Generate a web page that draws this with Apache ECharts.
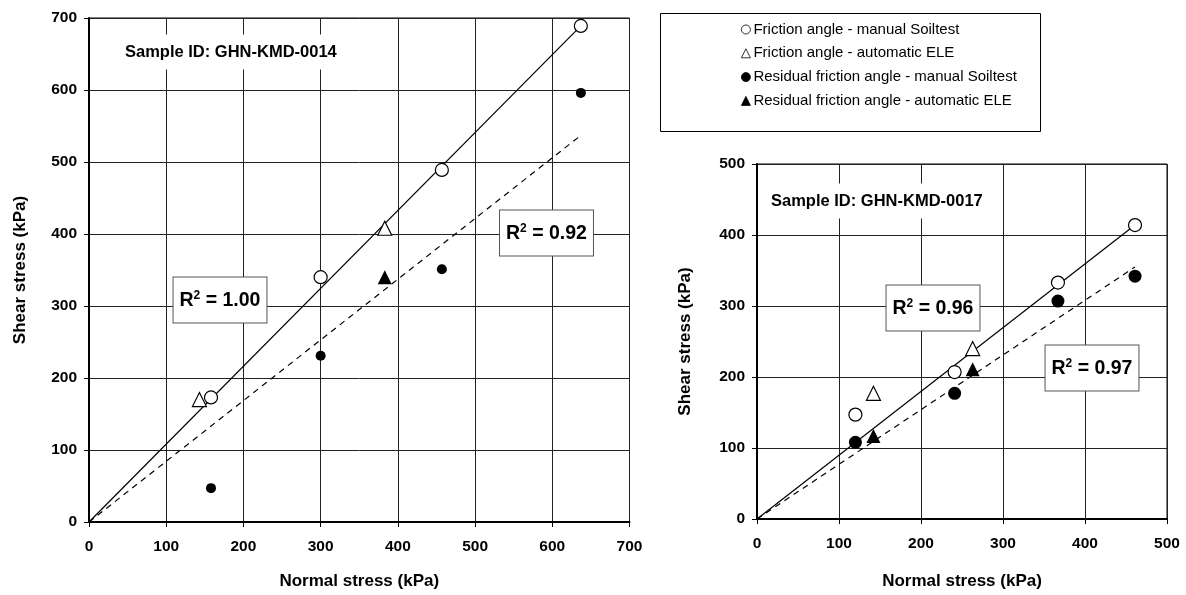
<!DOCTYPE html>
<html>
<head>
<meta charset="utf-8">
<script src="https://cdn.jsdelivr.net/npm/echarts@6/dist/echarts.min.js"></script>
<style>
  html, body { margin: 0; padding: 0; background: #fff; }
  #chart { width: 1186px; height: 595px; }
</style>
</head>
<body>
<div id="chart"></div>
<script>
// legend names (shared by both samples)
const seriesNames = [
  'Friction angle - manual Soiltest',
  'Friction angle - automatic ELE',
  'Residual friction angle - manual Soiltest',
  'Residual friction angle - automatic ELE'
];

// GHN-KMD-0014 : [normal stress, shear stress]
const s14Friction = [[158, 173], [300, 340], [457, 489], [637, 689]];
const s14FrictionEle = [[143, 170], [383, 408]];
const s14Residual = [[158, 47], [300, 231], [457, 351], [637, 596]];
const s14ResidualEle = [[383, 340]];
const s14FitPeak = [[0, 0], [637, 689]];
const s14FitResidual = [[0, 0], [637, 537]];

// GHN-KMD-0017
const s17Friction = [[120, 147], [241, 207], [367, 333], [461, 414]];
const s17FrictionEle = [[142, 177], [263, 240]];
const s17Residual = [[120, 108], [241, 177], [367, 307], [461, 342]];
const s17ResidualEle = [[142, 117], [263, 211]];
const s17FitPeak = [[0, 0], [461, 414]];
const s17FitResidual = [[0, 0], [461, 355]];

const axisMax14 = 700;
const axisMax17 = 500;
const tickStep = 100;

const FONT = '"Liberation Sans", Arial, sans-serif';

const chart = echarts.init(document.getElementById('chart'), null, { renderer: 'canvas' });

function valueAxis(gridIndex, max, name, isY) {
  return {
    type: 'value',
    gridIndex: gridIndex,
    min: 0,
    max: max,
    interval: tickStep,
    name: name,
    nameLocation: 'middle',
    nameGap: isY ? (gridIndex === 0 ? 60 : 63) : (gridIndex === 0 ? 51 : 54),
    nameTextStyle: { fontFamily: FONT, fontWeight: 'bold', fontSize: 17, color: '#000' },
    axisLine: { show: true, onZero: false, lineStyle: { color: '#000', width: 2 } },
    axisTick: { show: true, length: 5, lineStyle: { color: '#000', width: 1 } },
    axisLabel: {
      fontFamily: FONT, fontWeight: 'bold', fontSize: 15.5, color: '#000',
      margin: isY ? 12 : 17
    },
    splitLine: { show: true, lineStyle: { color: '#222', width: 1 } }
  };
}

const openStyle = { color: '#fff', borderColor: '#000', borderWidth: 1.2, opacity: 1 };
const filledStyle = { color: '#000', borderColor: '#000', borderWidth: 0, opacity: 1 };

function scatter(name, data, idx, symbol, size, style) {
  return {
    name: name,
    type: 'scatter',
    xAxisIndex: idx,
    yAxisIndex: idx,
    data: data,
    symbol: symbol,
    symbolSize: size,
    itemStyle: style,
    z: 5
  };
}

function fitLine(data, idx, dashed) {
  return {
    type: 'line',
    xAxisIndex: idx,
    yAxisIndex: idx,
    data: data,
    showSymbol: false,
    symbol: 'none',
    silent: true,
    lineStyle: { color: '#000', width: 1.2, type: dashed ? [6, 5] : 'solid' },
    z: 3
  };
}

function r2Label(x, y, value) {
  return {
    type: 'text',
    x: x,
    y: y,
    z: 20,
    style: {
      text: '{r|R}{s|2}{r| = ' + value + '}',
      align: 'center',
      verticalAlign: 'middle',
      backgroundColor: '#fff',
      borderColor: '#555',
      borderWidth: 1,
      padding: [12, 6, 11, 6],
      rich: {
        r: { fontFamily: FONT, fontWeight: 'bold', fontSize: 19.5, fill: '#000', lineHeight: 22 },
        s: { fontFamily: FONT, fontWeight: 'bold', fontSize: 12, fill: '#000', verticalAlign: 'top', lineHeight: 22 }
      }
    }
  };
}

function sampleLabel(x, y, text) {
  return {
    type: 'text',
    x: x,
    y: y,
    z: 20,
    style: {
      text: text,
      font: 'bold 16.5px ' + FONT,
      fill: '#000',
      align: 'left',
      verticalAlign: 'middle',
      backgroundColor: '#fff',
      padding: [9, 6]
    }
  };
}

const option = {
  animation: false,
  backgroundColor: '#fff',
  grid: [
    { left: 89, top: 18, right: 556.5, bottom: 73, show: true, borderColor: '#000', borderWidth: 1, containLabel: false },
    { left: 757, top: 164, right: 19, bottom: 76, show: true, borderColor: '#000', borderWidth: 1, containLabel: false }
  ],
  xAxis: [
    valueAxis(0, axisMax14, 'Normal stress (kPa)', false),
    valueAxis(1, axisMax17, 'Normal stress (kPa)', false)
  ],
  yAxis: [
    valueAxis(0, axisMax14, 'Shear stress (kPa)', true),
    valueAxis(1, axisMax17, 'Shear stress (kPa)', true)
  ],
  legend: {
    data: seriesNames,
    orient: 'vertical',
    left: 736,
    top: 17,
    itemWidth: 9,
    itemHeight: 9,
    itemGap: 8.8,
    itemStyle: { borderWidth: 0.8 },
    textStyle: { fontFamily: FONT, fontSize: 15, color: '#000', padding: [0, 0, 0, -2] },
    selectedMode: false
  },
  graphic: [
    {
      type: 'rect',
      shape: { x: 660.5, y: 13.5, width: 380, height: 118 },
      style: { fill: '#fff', stroke: '#000', lineWidth: 1 },
      z: -1,
      silent: true
    },
    sampleLabel(119, 52, 'Sample ID: GHN-KMD-0014'),
    sampleLabel(765, 201, 'Sample ID: GHN-KMD-0017'),
    r2Label(220, 300, '1.00'),
    r2Label(546.5, 233, '0.92'),
    r2Label(933, 308, '0.96'),
    r2Label(1092, 368, '0.97')
  ],
  series: [
    fitLine(s14FitPeak, 0, false),
    fitLine(s14FitResidual, 0, true),
    scatter(seriesNames[0], s14Friction, 0, 'circle', 13, openStyle),
    scatter(seriesNames[1], s14FrictionEle, 0, 'triangle', 14, openStyle),
    scatter(seriesNames[2], s14Residual, 0, 'circle', 10, filledStyle),
    scatter(seriesNames[3], s14ResidualEle, 0, 'triangle', 14, filledStyle),

    fitLine(s17FitPeak, 1, false),
    fitLine(s17FitResidual, 1, true),
    scatter(seriesNames[0], s17Friction, 1, 'circle', 13, openStyle),
    scatter(seriesNames[1], s17FrictionEle, 1, 'triangle', 14, openStyle),
    scatter(seriesNames[2], s17Residual, 1, 'circle', 13, filledStyle),
    scatter(seriesNames[3], s17ResidualEle, 1, 'triangle', 14, filledStyle)
  ]
};

chart.setOption(option);
</script>
</body>
</html>
